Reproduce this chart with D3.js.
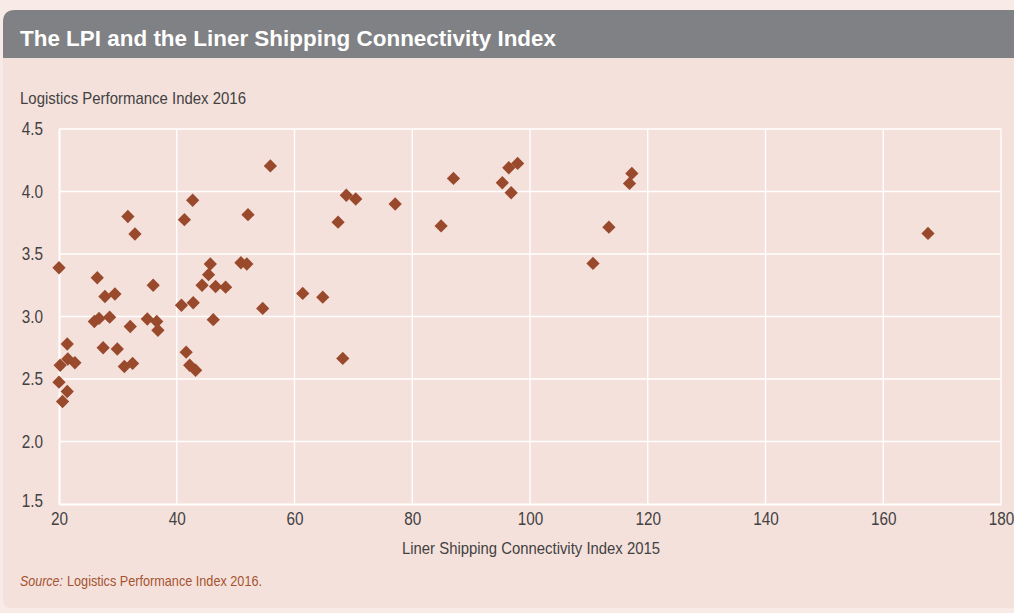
<!DOCTYPE html>
<html>
<head>
<meta charset="utf-8">
<script src="https://cdn.jsdelivr.net/npm/d3@7"></script>
<style>
  body { margin: 0; background: #f8ebe7; }
  svg { display: block; }
  .narrow { font-family: "Liberation Sans", Arial, sans-serif; }
</style>
</head>
<body>
<svg width="1014" height="613"></svg>
<script>
// LSCI 2015 (x) and LPI 2016 (y)
let lsci = [
  20.0, 20.0, 20.6, 20.2, 21.4, 21.5, 22.7, 21.4, 26.5, 27.8,
  29.5, 26.0, 26.8, 28.6, 27.5, 29.9, 31.1, 32.5, 32.1, 36.0,
  35.0, 36.6, 36.8, 31.7, 32.9, 55.9, 42.7, 41.3, 52.1, 45.7,
  50.9, 51.9, 45.4, 44.3, 46.6, 48.3, 40.8, 42.8, 54.6, 46.2,
  41.6, 42.2, 43.2, 61.4, 64.8, 68.2, 67.4, 68.8, 70.4, 77.1,
  84.9, 87.0, 95.3, 96.4, 97.9, 96.8, 110.7, 113.4, 116.9, 117.3,
  167.6
];
let lpi = [
  3.39, 2.475, 2.32, 2.61, 2.78, 2.66, 2.63, 2.40, 3.31, 3.16,
  3.18, 2.96, 2.985, 2.995, 2.75, 2.74, 2.60, 2.625, 2.92, 3.25,
  2.98, 2.96, 2.89, 3.80, 3.66, 4.205, 3.93, 3.775, 3.815, 3.42,
  3.43, 3.42, 3.335, 3.25, 3.24, 3.235, 3.09, 3.11, 3.065, 2.975,
  2.715, 2.61, 2.57, 3.185, 3.155, 2.665, 3.755, 3.97, 3.94, 3.90,
  3.725, 4.105, 4.07, 4.19, 4.225, 3.99, 3.425, 3.715, 4.065, 4.145,
  3.665
];
let xTicks = [20, 40, 60, 80, 100, 120, 140, 160, 180];
let yTicks = [1.5, 2.0, 2.5, 3.0, 3.5, 4.0, 4.5];

let svg = d3.select("svg");

// squeeze a text horizontally, the reference uses a condensed face
function condense(sel, k) {
  sel.each(function() {
    let w = this.getComputedTextLength();
    d3.select(this).attr("textLength", w * k).attr("lengthAdjust", "spacingAndGlyphs");
  });
}

// panel + title bar
svg.append("path")
  .attr("d", "M3,600 Q3,608 11,608 L1014,608 L1014,58 L3,58 Z")
  .attr("fill", "#f5e1dc");
svg.append("path")
  .attr("d", "M3,58 L3,22 Q3,10 15,10 L1014,10 L1014,58 Z")
  .attr("fill", "#808184");
svg.append("text")
  .attr("x", 20)
  .attr("y", 46)
  .attr("fill", "#ffffff")
  .attr("textLength", 536)
  .attr("lengthAdjust", "spacingAndGlyphs")
  .style("font-family", "'Liberation Sans', Arial, sans-serif")
  .style("font-weight", "bold")
  .style("font-size", "22px")
  .text("The LPI and the Liner Shipping Connectivity Index");

let xScale = d3.scaleLinear().domain([20, 180]).range([59, 1001]);
let yScale = d3.scaleLinear().domain([1.5, 4.5]).range([504, 129]);

// gridlines
svg.append("g")
  .selectAll("line")
  .data(xTicks.slice(1))
  .enter()
  .append("line")
  .attr("x1", d => xScale(d))
  .attr("x2", d => xScale(d))
  .attr("y1", yScale(4.5))
  .attr("y2", yScale(1.5))
  .attr("stroke", "#ffffff")
  .attr("stroke-width", 1.3);
svg.append("g")
  .selectAll("line")
  .data(yTicks.slice(1))
  .enter()
  .append("line")
  .attr("x1", xScale(20))
  .attr("x2", xScale(180))
  .attr("y1", d => yScale(d))
  .attr("y2", d => yScale(d))
  .attr("stroke", "#ffffff")
  .attr("stroke-width", 1.3);

// axes
let xAxis = svg.append("g")
  .attr("transform", "translate(0," + yScale(1.5) + ")")
  .call(d3.axisBottom(xScale).tickValues(xTicks).tickSize(0).tickPadding(8).tickFormat(d3.format("d")));
let yAxis = svg.append("g")
  .attr("transform", "translate(" + xScale(20) + ",0)")
  .call(d3.axisLeft(yScale).tickValues(yTicks).tickSize(0).tickPadding(16).tickFormat(d3.format(".1f")));

[xAxis, yAxis].forEach(function(g) {
  g.select(".domain").attr("stroke", "#ffffff").attr("stroke-width", 2);
  g.selectAll("text")
    .attr("class", "narrow")
    .attr("fill", "#424242")
    .style("font-size", "18px")
    .call(condense, 0.85);
});
yAxis.selectAll("text").filter(d => d == 1.5).attr("dy", "0.15em");

// axis titles
svg.append("text")
  .attr("class", "narrow")
  .attr("x", 20)
  .attr("y", 104)
  .attr("fill", "#424242")
  .attr("textLength", 226)
  .attr("lengthAdjust", "spacingAndGlyphs")
  .style("font-size", "17px")
  .text("Logistics Performance Index 2016");
svg.append("text")
  .attr("class", "narrow")
  .attr("x", 402)
  .attr("y", 554)
  .attr("fill", "#424242")
  .attr("textLength", 258)
  .attr("lengthAdjust", "spacingAndGlyphs")
  .style("font-size", "17px")
  .text("Liner Shipping Connectivity Index 2015");

// source
svg.append("text")
  .attr("class", "narrow")
  .attr("x", 20)
  .attr("y", 586)
  .attr("fill", "#a4532f")
  .attr("textLength", 43)
  .attr("lengthAdjust", "spacingAndGlyphs")
  .style("font-size", "15px")
  .style("font-style", "italic")
  .text("Source:");
svg.append("text")
  .attr("class", "narrow")
  .attr("x", 67)
  .attr("y", 586)
  .attr("fill", "#a4532f")
  .attr("textLength", 195)
  .attr("lengthAdjust", "spacingAndGlyphs")
  .style("font-size", "15px")
  .text("Logistics Performance Index 2016.");

// points
let diamond = d3.symbol().type(d3.symbolSquare).size(88);
svg.append("g")
  .selectAll("path")
  .data(lsci)
  .enter()
  .append("path")
  .attr("d", diamond)
  .attr("transform", function(d, i) {
    return "translate(" + xScale(d) + "," + yScale(lpi[i]) + ") rotate(45)";
  })
  .attr("fill", "#9a4a2c");
</script>
</body>
</html>
